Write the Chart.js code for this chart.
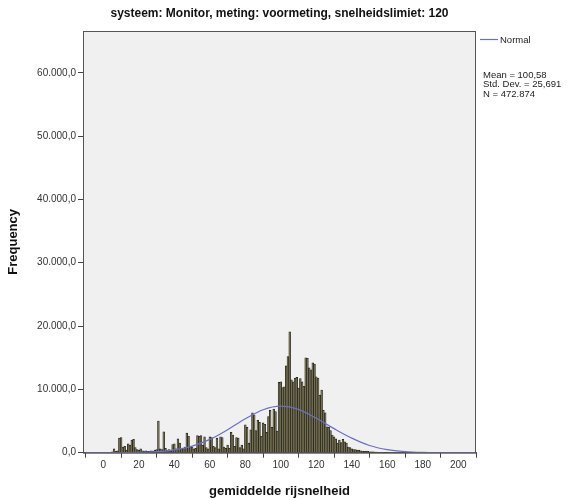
<!DOCTYPE html>
<html>
<head>
<meta charset="utf-8">
<script src="https://cdn.jsdelivr.net/npm/chart.js@4.4.0/dist/chart.umd.min.js"></script>
<style>
  html, body { margin: 0; padding: 0; background: #ffffff; }
  #wrap { width: 575px; height: 500px; }
</style>
</head>
<body>
<div id="wrap"><canvas id="histogram" width="575" height="500"></canvas></div>
<script>
// Data
const titleText = 'systeem: Monitor, meting: voormeting, snelheidslimiet: 120';
const xTitle = 'gemiddelde rijsnelheid';
const yTitle = 'Frequency';
const statsLines = ['Mean = 100,58', 'Std. Dev. = 25,691', 'N = 472.874'];

// speed bins (width 1) and the counts
const speeds = [
    5, 6, 7, 8, 9, 10, 11, 12, 13, 14, 15, 16, 17, 18, 19, 20,
    21, 22, 23, 24, 25, 26, 27, 28, 29, 30, 31, 32, 33, 34, 35, 36, 37, 38, 39, 40,
    41, 42, 43, 44, 45, 46, 47, 48, 49, 50, 51, 52, 53, 54, 55, 56, 57, 58, 59, 60,
    61, 62, 63, 64, 65, 66, 67, 68, 69, 70, 71, 72, 73, 74, 75, 76, 77, 78, 79, 80,
    81, 82, 83, 84, 85, 86, 87, 88, 89, 90, 91, 92, 93, 94, 95, 96, 97, 98, 99, 100,
    101, 102, 103, 104, 105, 106, 107, 108, 109, 110, 111, 112, 113, 114, 115, 116, 117, 118, 119, 120,
    121, 122, 123, 124, 125, 126, 127, 128, 129, 130, 131, 132, 133, 134, 135, 136, 137, 138, 139, 140,
    141, 142, 143, 144, 145, 146, 147, 148, 149, 150, 151, 152, 153, 154, 155, 156, 157, 158, 159, 160
];
const counts = [
    150, 600, 200, 300, 2300, 2400, 900, 1000, 400, 1400, 1200, 2000, 2100, 800, 500, 400,
    600, 300, 250, 300, 200, 250, 300, 250, 400, 500, 5000, 600, 500, 3300, 700, 400, 500, 300, 1300, 1400,
    600, 2200, 1500, 500, 700, 900, 3100, 2600, 1000, 900, 600, 700, 2700, 2600, 2700, 1200, 2500, 800, 600, 2500,
    2400, 1000, 800, 2300, 600, 2500, 2400, 900, 700, 1200, 700, 3200, 2800, 1000, 2400, 2300, 800, 1200, 600, 4400,
    4000, 1500, 3600, 6300, 6000, 3500, 5100, 4800, 2600, 4700, 4500, 3200, 5700, 6700, 4000, 6900, 6500, 3400, 11100, 11200,
    10300, 10400, 13700, 15200, 19100, 11500, 11200, 11800, 11900, 10200, 11700, 11200, 10500, 15000, 14900, 13400, 13100, 14200, 14000, 12000,
    11800, 9100, 9900, 6700, 6300, 4100, 4000, 3500, 2800, 2500, 2200, 1500, 2000, 1600, 2100, 1700, 1500, 900, 800, 600,
    500, 500, 400, 400, 300, 250, 200, 250, 200, 150, 150, 120, 100, 80, 60, 40, 30, 20, 10, 10
];

// normal curve, read at every 10 km/h
const curveX = [-10, 0, 10, 20, 30, 40, 50, 60, 70, 80, 90, 100, 110, 120, 130, 140, 150, 160, 170, 180, 190, 200, 210];
const curveY = [0, 0, 10, 40, 160, 460, 1050, 2100, 3630, 5350, 6790, 7340, 6850, 5430, 3800, 2300, 1140, 490, 180, 50, 10, 0, 0];

const xTicks = [0, 20, 40, 60, 80, 100, 120, 140, 160, 180, 200];
const yTicks = [0, 10000, 20000, 30000, 40000, 50000, 60000];

// Helpers
const fmtNL = function (v) {
    const whole = Math.round(v).toString().replace(/\B(?=(\d{3})+(?!\d))/g, '.');
    return whole + ',0';
};

const frame = {
    id: 'frame',
    beforeDraw: function (chart) {
        const a = chart.chartArea;
        const ctx = chart.ctx;
        ctx.save();
        ctx.fillStyle = '#f0f0f0';
        ctx.fillRect(a.left, a.top, a.right - a.left, a.bottom - a.top);
        ctx.restore();
    },
    afterDraw: function (chart) {
        const a = chart.chartArea;
        const ctx = chart.ctx;
        ctx.save();
        ctx.strokeStyle = '#555555';
        ctx.lineWidth = 1;
        ctx.strokeRect(a.left + 0.5, a.top + 0.5, a.right - a.left - 1, a.bottom - a.top);

        // title
        ctx.fillStyle = '#111111';
        ctx.font = 'bold 12px "Liberation Sans", Arial, sans-serif';
        ctx.textAlign = 'center';
        ctx.textBaseline = 'middle';
        ctx.fillText(titleText, (a.left + a.right) / 2, 14);

        // legend
        ctx.strokeStyle = '#6b70c0';
        ctx.lineWidth = 1.2;
        ctx.beginPath();
        ctx.moveTo(a.right + 4, 39.5);
        ctx.lineTo(a.right + 22, 39.5);
        ctx.stroke();
        ctx.font = '9.5px "Liberation Sans", Arial, sans-serif';
        ctx.textAlign = 'left';
        ctx.fillStyle = '#222222';
        ctx.fillText('Normal', a.right + 24, 40);

        // stats
        ctx.font = '9.5px "Liberation Sans", Arial, sans-serif';
        statsLines.forEach(function (line, i) {
            ctx.fillText(line, a.right + 7, 75 + i * 9.5);
        });
        ctx.restore();
    }
};

new Chart(document.getElementById('histogram'), {
    type: 'bar',
    data: {
        datasets: [
            {
                type: 'line',
                label: 'Normal',
                data: curveX.map(function (x, i) { return { x: x, y: curveY[i] }; }),
                borderColor: '#6b70c0',
                borderWidth: 1.2,
                pointRadius: 0,
                fill: false,
                cubicInterpolationMode: 'monotone',
                order: 0
            },
            {
                label: 'Frequency',
                data: speeds.map(function (s, i) { return { x: s, y: counts[i] }; }),
                backgroundColor: '#767050',
                borderColor: '#1f1e15',
                borderWidth: 0.7,
                barPercentage: 1,
                categoryPercentage: 1,
                order: 1
            }
        ]
    },
    options: {
        responsive: false,
        animation: false,
        layout: { padding: { top: 31, right: 99, left: 0, bottom: 0 } },
        plugins: {
            legend: { display: false },
            tooltip: { enabled: false }
        },
        scales: {
            x: {
                type: 'linear',
                min: -11.5,
                max: 210,
                offset: false,
                afterFit: function (scale) { scale.height = 47.3; },
                afterBuildTicks: function (scale) {
                    scale.ticks = xTicks.map(function (v) { return { value: v }; });
                },
                ticks: {
                    font: { size: 10 },
                    color: '#333333',
                    padding: 2,
                    maxRotation: 0,
                    autoSkip: false
                },
                grid: {
                    drawOnChartArea: false,
                    drawTicks: true,
                    tickLength: 5,
                    color: '#444444'
                },
                border: { display: true, color: '#555555' },
                title: {
                    display: true,
                    text: xTitle,
                    color: '#111111',
                    font: { size: 13, weight: 'bold' },
                    padding: { top: 0, bottom: 1 }
                }
            },
            y: {
                min: 0,
                max: 66600,
                afterFit: function (scale) { scale.width = 83; },
                afterBuildTicks: function (scale) {
                    scale.ticks = yTicks.map(function (v) { return { value: v }; });
                },
                ticks: {
                    font: { size: 10 },
                    color: '#333333',
                    padding: 2,
                    callback: function (v) { return fmtNL(v); }
                },
                grid: {
                    drawOnChartArea: false,
                    drawTicks: true,
                    tickLength: 5,
                    color: '#444444'
                },
                border: { display: true, color: '#555555' },
                title: {
                    display: true,
                    text: yTitle,
                    color: '#111111',
                    font: { size: 13, weight: 'bold' },
                    padding: { top: 6, bottom: 0 }
                }
            }
        }
    },
    plugins: [frame]
});
</script>
</body>
</html>
